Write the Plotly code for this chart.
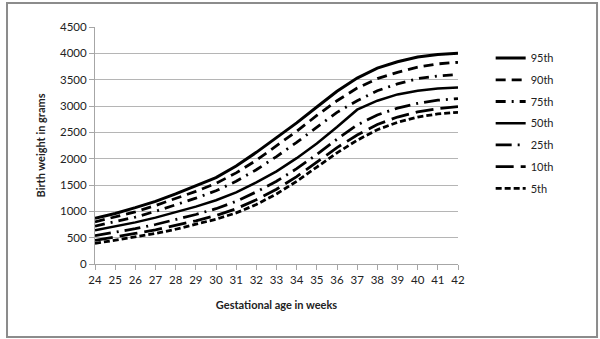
import plotly.graph_objects as go

weeks = list(range(24, 43))

p95 = [870, 960, 1070, 1190, 1330, 1480, 1640, 1860, 2120, 2400, 2680, 2980, 3280, 3530, 3720, 3840, 3930, 3980, 4000]
p90 = [800, 890, 990, 1110, 1240, 1380, 1530, 1730, 1970, 2240, 2520, 2820, 3100, 3340, 3520, 3640, 3740, 3800, 3830]
p75 = [720, 800, 890, 1000, 1120, 1250, 1390, 1570, 1790, 2040, 2310, 2600, 2880, 3100, 3290, 3420, 3520, 3570, 3600]
p50 = [640, 710, 790, 880, 980, 1090, 1210, 1360, 1550, 1760, 2010, 2290, 2600, 2930, 3100, 3220, 3290, 3330, 3350]
p25 = [540, 600, 670, 750, 840, 940, 1050, 1190, 1370, 1570, 1810, 2080, 2370, 2640, 2830, 2960, 3050, 3110, 3140]
p10 = [450, 510, 580, 650, 730, 820, 920, 1050, 1220, 1420, 1660, 1930, 2210, 2450, 2650, 2790, 2890, 2950, 2990]
p5 = [390, 450, 510, 580, 660, 750, 850, 970, 1130, 1330, 1570, 1840, 2110, 2350, 2550, 2690, 2790, 2850, 2880]

names = ["95th", "90th", "75th", "50th", "25th", "10th", "5th"]
series = [p95, p90, p75, p50, p25, p10, p5]
dashes = ["solid", "10px,6px", "10px,6px,2px,6px", "solid", "16px,6px,2px,6px", "18px,7px", "6px,3px"]
widths = [3, 2.8, 2.8, 2.5, 2.8, 2.8, 2.8]

fig = go.Figure()
for i, (n, s) in enumerate(zip(names, series)):
    fig.add_trace(go.Scatter(
        x=weeks, y=s, name=n, mode="lines", legendgroup=n,
        line=dict(color="black", width=widths[i], dash=dashes[i]),
    ))

font = "Lato, 'Open Sans', sans-serif"
fig.update_layout(
    width=600, height=339,
    margin=dict(l=95, r=142, t=27, b=75),
    paper_bgcolor="white", plot_bgcolor="white",
    font=dict(family=font, size=11, color="#222"),
    showlegend=True,
    legend=dict(x=1.09, y=0.93, xanchor="left", yanchor="top",
                font=dict(size=11, color="#222"), tracegroupgap=2.7,
                bgcolor="rgba(0,0,0,0)"),
    xaxis=dict(
        range=[24, 42], tickmode="array", tickvals=weeks,
        ticktext=[str(w) for w in weeks],
        showgrid=False, showline=True, linecolor="#a6a6a6", linewidth=1,
        ticks="outside", ticklen=5, tickcolor="#a6a6a6",
        tickfont=dict(size=11.5), zeroline=False,
        title=dict(text="<b>Gestational age in weeks</b>", font=dict(size=11), standoff=16),
    ),
    yaxis=dict(
        range=[0, 4500], dtick=500, showgrid=True, gridcolor="#b5b5b5", gridwidth=1,
        showline=True, linecolor="#a6a6a6", linewidth=1,
        ticks="outside", ticklen=5, tickcolor="#a6a6a6",
        tickfont=dict(size=11.5), zeroline=False,
        title=dict(text="<b>Birth weight in grams</b>", font=dict(size=11), standoff=12),
    ),
    shapes=[dict(type="rect", xref="paper", yref="paper",
                 x0=-0.2424, x1=1.383, y0=-0.308, y1=1.101,
                 line=dict(color="#8c8c8c", width=2), fillcolor="rgba(0,0,0,0)", layer="below")],
)

fig.write_html("out.html")
